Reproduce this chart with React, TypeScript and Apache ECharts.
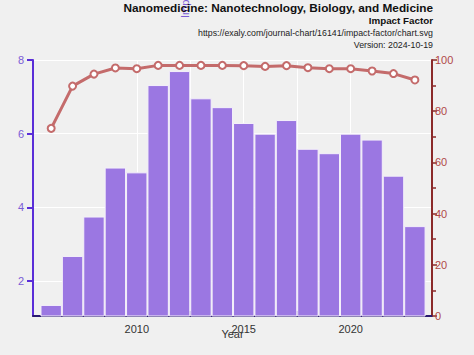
import React, { useEffect, useRef } from "react";
import * as echarts from "echarts";

const years = [2006, 2007, 2008, 2009, 2010, 2011, 2012, 2013, 2014, 2015, 2016, 2017, 2018, 2019, 2020, 2021, 2022, 2023];
const impactFactor = [1.35, 2.68, 3.75, 5.08, 4.95, 7.32, 7.7, 6.96, 6.72, 6.29, 6.0, 6.37, 5.59, 5.47, 6.0, 5.84, 4.86, 3.49];
const percentile = [73.3, 89.8, 94.5, 96.9, 96.6, 97.9, 97.9, 97.9, 97.9, 97.8, 97.5, 97.8, 97.0, 96.6, 96.6, 95.7, 94.7, 92.2];
const leftTicks = [2, 4, 6, 8];
const xLabelYears = [2010, 2015, 2020];
const xTickYears = [2010, 2012.5, 2015, 2017.5, 2020];

const FONT = "Liberation Sans, Arial, sans-serif";

export default function App() {
  const ref = useRef<HTMLDivElement>(null);
  useEffect(() => {
    if (!ref.current) return;
    const chart = echarts.init(ref.current, undefined, { renderer: "svg" });
    chart.setOption({
      animation: false,
      backgroundColor: "#f0f0f0",
      textStyle: { fontFamily: FONT },
      grid: { left: 33, right: 42, top: 60, bottom: 39, show: true, backgroundColor: "#f0f0f0", borderWidth: 0 },
      graphic: [
        { type: "text", x: 185, y: 18, rotation: Math.PI / 2, style: { text: "Impact Factor", fill: "#7a5cd6", font: "11px " + FONT, textAlign: "left", textVerticalAlign: "middle" } },
        { type: "text", right: 41, top: 2, style: { text: "Nanomedicine: Nanotechnology, Biology, and Medicine", fill: "#111", font: "bold 11.8px " + FONT, textAlign: "right" } },
        { type: "text", right: 41, top: 15, style: { text: "Impact Factor", fill: "#111", font: "bold 9.8px " + FONT, textAlign: "right" } },
        { type: "text", right: 41, top: 28, style: { text: "https://exaly.com/journal-chart/16141/impact-factor/chart.svg", fill: "#222", font: "8.8px " + FONT, textAlign: "right" } },
        { type: "text", right: 41, top: 40, style: { text: "Version: 2024-10-19", fill: "#222", font: "8.8px " + FONT, textAlign: "right" } },
      ],
      xAxis: {
        type: "value",
        min: 2005.15,
        max: 2023.8,
        name: "Year",
        nameLocation: "middle",
        nameGap: 12,
        nameMoveOverlap: false,
        nameTextStyle: { color: "#333", fontSize: 11, fontFamily: FONT },
        axisLine: { show: true, lineStyle: { color: "#2a1a70", width: 2 } },
        axisTick: { show: true, inside: true, length: 5, customValues: xTickYears, lineStyle: { color: "#3a1a90", width: 2 } },
        axisLabel: { customValues: xLabelYears, color: "#333", fontSize: 11, margin: 7, formatter: (v: number) => String(v) },
        splitLine: { show: true, lineStyle: { color: "#ffffff", width: 1 } },
      },
      yAxis: [
        {
          type: "value",
          min: 1.05,
          max: 8,
          position: "left",
          axisLine: { show: true, lineStyle: { color: "#5a2ed8", width: 2 } },
          axisTick: { show: true, length: 6, customValues: leftTicks, lineStyle: { color: "#5a2ed8", width: 2 } },
          axisLabel: { customValues: leftTicks, color: "#7a5cd6", fontSize: 11, margin: 9 },
          splitLine: { show: true, lineStyle: { color: "#ffffff", width: 1 } },
        },
        {
          type: "value",
          min: 0,
          max: 100,
          interval: 20,
          position: "right",
          axisLine: { show: true, lineStyle: { color: "#8b2a2a", width: 2 } },
          axisTick: { show: true, length: 5, lineStyle: { color: "#8b2a2a", width: 1.5 } },
          minorTick: { show: true, splitNumber: 2, length: 4, lineStyle: { color: "#8b2a2a", width: 1.5 } },
          axisLabel: { color: "#b04848", fontSize: 11, margin: 3 },
          splitLine: { show: false },
        },
      ],
      series: [
        {
          type: "bar",
          yAxisIndex: 0,
          data: years.map((y, i) => [y, impactFactor[i]]),
          barWidth: 21.4,
          itemStyle: { color: "#9b77e2", borderColor: "#f4f0fa", borderWidth: 1 },
        },
        {
          type: "line",
          yAxisIndex: 1,
          data: years.map((y, i) => [y, percentile[i]]),
          lineStyle: { color: "#c46b6b", width: 3 },
          symbol: "circle",
          symbolSize: 7,
          itemStyle: { color: "#ffffff", borderColor: "#c46b6b", borderWidth: 2 },
          z: 5,
        },
      ],
    });
    return () => chart.dispose();
  }, []);
  return <div ref={ref} style={{ width: 474, height: 355, position: "absolute", left: 0, top: 0 }} />;
}
